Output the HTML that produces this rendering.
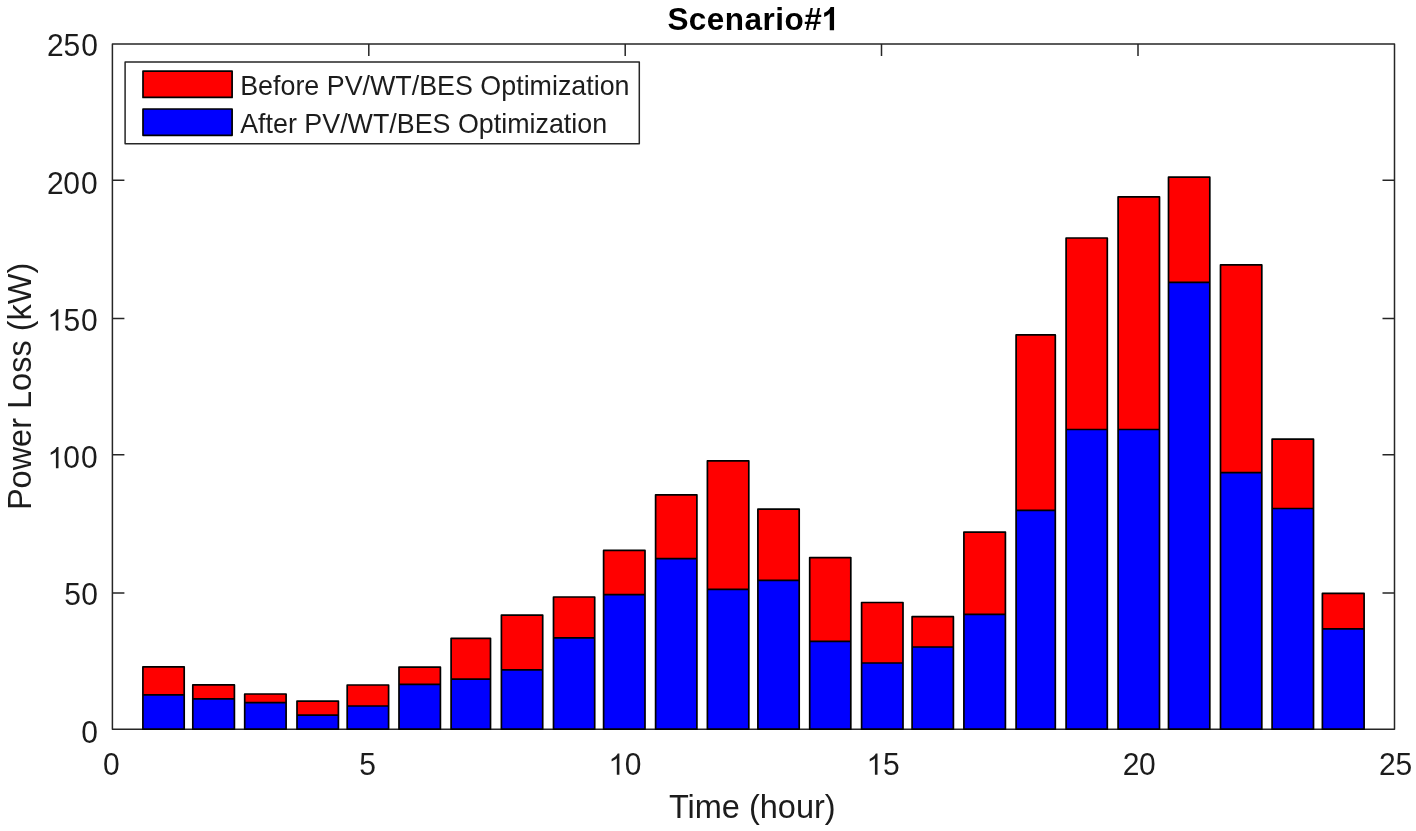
<!DOCTYPE html>
<html><head><meta charset="utf-8"><title>Scenario#1</title><style>
html,body{margin:0;padding:0;background:#fff;width:1416px;height:831px;overflow:hidden;}
svg{display:block;will-change:transform;}
text{font-family:"Liberation Sans",sans-serif;}
</style></head><body>
<svg width="1416" height="831" viewBox="0 0 1416 831">
<rect x="0" y="0" width="1416" height="831" fill="#fff"/>
<g stroke="#262626" stroke-width="1.5" fill="none" stroke-linejoin="round">
<rect x="112.4" y="43.95" width="1282.10" height="685.25"/>
<path d="M368.80 729.2V717.2M368.80 43.95V55.95M625.20 729.2V717.2M625.20 43.95V55.95M881.50 729.2V717.2M881.50 43.95V55.95M1138.00 729.2V717.2M1138.00 43.95V55.95M112.4 593.00H124.4M1394.5 593.00H1382.5M112.4 454.80H124.4M1394.5 454.80H1382.5M112.4 318.40H124.4M1394.5 318.40H1382.5M112.4 180.30H124.4M1394.5 180.30H1382.5"/>
</g>
<g stroke="#000" stroke-width="1.7" stroke-linejoin="round" fill="none">
<rect x="142.90" y="666.80" width="41.30" height="62.40" fill="#f00" stroke="none"/><rect x="142.90" y="694.90" width="41.30" height="34.30" fill="#00f" stroke="none"/><rect x="142.90" y="666.80" width="41.30" height="62.40"/><path d="M142.90 694.90H184.20"/><rect x="192.80" y="684.90" width="41.60" height="44.30" fill="#f00" stroke="none"/><rect x="192.80" y="698.90" width="41.60" height="30.30" fill="#00f" stroke="none"/><rect x="192.80" y="684.90" width="41.60" height="44.30"/><path d="M192.80 698.90H234.40"/><rect x="244.70" y="694.00" width="41.40" height="35.20" fill="#f00" stroke="none"/><rect x="244.70" y="702.70" width="41.40" height="26.50" fill="#00f" stroke="none"/><rect x="244.70" y="694.00" width="41.40" height="35.20"/><path d="M244.70 702.70H286.10"/><rect x="297.00" y="701.10" width="41.40" height="28.10" fill="#f00" stroke="none"/><rect x="297.00" y="715.10" width="41.40" height="14.10" fill="#00f" stroke="none"/><rect x="297.00" y="701.10" width="41.40" height="28.10"/><path d="M297.00 715.10H338.40"/><rect x="347.20" y="685.00" width="41.40" height="44.20" fill="#f00" stroke="none"/><rect x="347.20" y="706.00" width="41.40" height="23.20" fill="#00f" stroke="none"/><rect x="347.20" y="685.00" width="41.40" height="44.20"/><path d="M347.20 706.00H388.60"/><rect x="399.00" y="667.20" width="41.40" height="62.00" fill="#f00" stroke="none"/><rect x="399.00" y="684.40" width="41.40" height="44.80" fill="#00f" stroke="none"/><rect x="399.00" y="667.20" width="41.40" height="62.00"/><path d="M399.00 684.40H440.40"/><rect x="451.10" y="638.30" width="39.40" height="90.90" fill="#f00" stroke="none"/><rect x="451.10" y="679.10" width="39.40" height="50.10" fill="#00f" stroke="none"/><rect x="451.10" y="638.30" width="39.40" height="90.90"/><path d="M451.10 679.10H490.50"/><rect x="501.40" y="615.10" width="41.30" height="114.10" fill="#f00" stroke="none"/><rect x="501.40" y="669.80" width="41.30" height="59.40" fill="#00f" stroke="none"/><rect x="501.40" y="615.10" width="41.30" height="114.10"/><path d="M501.40 669.80H542.70"/><rect x="553.50" y="597.00" width="41.20" height="132.20" fill="#f00" stroke="none"/><rect x="553.50" y="637.90" width="41.20" height="91.30" fill="#00f" stroke="none"/><rect x="553.50" y="597.00" width="41.20" height="132.20"/><path d="M553.50 637.90H594.70"/><rect x="603.60" y="550.40" width="41.40" height="178.80" fill="#f00" stroke="none"/><rect x="603.60" y="594.70" width="41.40" height="134.50" fill="#00f" stroke="none"/><rect x="603.60" y="550.40" width="41.40" height="178.80"/><path d="M603.60 594.70H645.00"/><rect x="655.60" y="494.80" width="41.30" height="234.40" fill="#f00" stroke="none"/><rect x="655.60" y="558.60" width="41.30" height="170.60" fill="#00f" stroke="none"/><rect x="655.60" y="494.80" width="41.30" height="234.40"/><path d="M655.60 558.60H696.90"/><rect x="707.40" y="460.80" width="41.40" height="268.40" fill="#f00" stroke="none"/><rect x="707.40" y="589.40" width="41.40" height="139.80" fill="#00f" stroke="none"/><rect x="707.40" y="460.80" width="41.40" height="268.40"/><path d="M707.40 589.40H748.80"/><rect x="757.90" y="509.20" width="41.30" height="220.00" fill="#f00" stroke="none"/><rect x="757.90" y="580.40" width="41.30" height="148.80" fill="#00f" stroke="none"/><rect x="757.90" y="509.20" width="41.30" height="220.00"/><path d="M757.90 580.40H799.20"/><rect x="809.70" y="557.60" width="41.10" height="171.60" fill="#f00" stroke="none"/><rect x="809.70" y="641.30" width="41.10" height="87.90" fill="#00f" stroke="none"/><rect x="809.70" y="557.60" width="41.10" height="171.60"/><path d="M809.70 641.30H850.80"/><rect x="861.60" y="602.50" width="41.40" height="126.70" fill="#f00" stroke="none"/><rect x="861.60" y="663.00" width="41.40" height="66.20" fill="#00f" stroke="none"/><rect x="861.60" y="602.50" width="41.40" height="126.70"/><path d="M861.60 663.00H903.00"/><rect x="912.10" y="616.70" width="41.30" height="112.50" fill="#f00" stroke="none"/><rect x="912.10" y="647.00" width="41.30" height="82.20" fill="#00f" stroke="none"/><rect x="912.10" y="616.70" width="41.30" height="112.50"/><path d="M912.10 647.00H953.40"/><rect x="963.90" y="532.10" width="41.50" height="197.10" fill="#f00" stroke="none"/><rect x="963.90" y="614.40" width="41.50" height="114.80" fill="#00f" stroke="none"/><rect x="963.90" y="532.10" width="41.50" height="197.10"/><path d="M963.90 614.40H1005.40"/><rect x="1016.10" y="334.90" width="39.20" height="394.30" fill="#f00" stroke="none"/><rect x="1016.10" y="510.30" width="39.20" height="218.90" fill="#00f" stroke="none"/><rect x="1016.10" y="334.90" width="39.20" height="394.30"/><path d="M1016.10 510.30H1055.30"/><rect x="1066.10" y="238.00" width="41.20" height="491.20" fill="#f00" stroke="none"/><rect x="1066.10" y="429.50" width="41.20" height="299.70" fill="#00f" stroke="none"/><rect x="1066.10" y="238.00" width="41.20" height="491.20"/><path d="M1066.10 429.50H1107.30"/><rect x="1118.10" y="196.90" width="41.40" height="532.30" fill="#f00" stroke="none"/><rect x="1118.10" y="429.50" width="41.40" height="299.70" fill="#00f" stroke="none"/><rect x="1118.10" y="196.90" width="41.40" height="532.30"/><path d="M1118.10 429.50H1159.50"/><rect x="1168.50" y="177.20" width="41.30" height="552.00" fill="#f00" stroke="none"/><rect x="1168.50" y="282.40" width="41.30" height="446.80" fill="#00f" stroke="none"/><rect x="1168.50" y="177.20" width="41.30" height="552.00"/><path d="M1168.50 282.40H1209.80"/><rect x="1220.50" y="264.90" width="41.30" height="464.30" fill="#f00" stroke="none"/><rect x="1220.50" y="472.70" width="41.30" height="256.50" fill="#00f" stroke="none"/><rect x="1220.50" y="264.90" width="41.30" height="464.30"/><path d="M1220.50 472.70H1261.80"/><rect x="1272.10" y="439.20" width="41.40" height="290.00" fill="#f00" stroke="none"/><rect x="1272.10" y="508.50" width="41.40" height="220.70" fill="#00f" stroke="none"/><rect x="1272.10" y="439.20" width="41.40" height="290.00"/><path d="M1272.10 508.50H1313.50"/><rect x="1322.40" y="593.40" width="41.70" height="135.80" fill="#f00" stroke="none"/><rect x="1322.40" y="628.80" width="41.70" height="100.40" fill="#00f" stroke="none"/><rect x="1322.40" y="593.40" width="41.70" height="135.80"/><path d="M1322.40 628.80H1364.10"/>
</g>
<g fill="#1c1c1c" font-size="30">
<text x="89.50" y="743.50" text-anchor="middle" transform="matrix(1,0,0,1.05,0,-37.175)">0</text><text x="72.60" y="605.00" text-anchor="middle" transform="matrix(1,0,0,1.05,0,-30.250)">5</text><text x="89.60" y="605.00" text-anchor="middle" transform="matrix(1,0,0,1.05,0,-30.250)">0</text><text x="71.60" y="468.40" text-anchor="middle" transform="matrix(1,0,0,1.05,0,-23.420)">0</text><text x="89.40" y="468.40" text-anchor="middle" transform="matrix(1,0,0,1.05,0,-23.420)">0</text><text x="71.85" y="330.70" text-anchor="middle" transform="matrix(1,0,0,1.05,0,-16.535)">5</text><text x="89.40" y="330.70" text-anchor="middle" transform="matrix(1,0,0,1.05,0,-16.535)">0</text><text x="55.45" y="193.70" text-anchor="middle" transform="matrix(1,0,0,1.05,0,-9.685)">2</text><text x="71.60" y="193.70" text-anchor="middle" transform="matrix(1,0,0,1.05,0,-9.685)">0</text><text x="89.40" y="193.70" text-anchor="middle" transform="matrix(1,0,0,1.05,0,-9.685)">0</text><text x="55.45" y="55.95" text-anchor="middle" transform="matrix(1,0,0,1.05,0,-2.798)">2</text><text x="71.85" y="55.95" text-anchor="middle" transform="matrix(1,0,0,1.05,0,-2.798)">5</text><text x="89.50" y="55.95" text-anchor="middle" transform="matrix(1,0,0,1.05,0,-2.798)">0</text><text x="111.30" y="775.50" text-anchor="middle" transform="matrix(1,0,0,1.05,0,-38.775)">0</text><text x="367.70" y="775.50" text-anchor="middle" transform="matrix(1,0,0,1.05,0,-38.775)">5</text><text x="633.05" y="775.50" text-anchor="middle" transform="matrix(1,0,0,1.05,0,-38.775)">0</text><text x="891.30" y="775.50" text-anchor="middle" transform="matrix(1,0,0,1.05,0,-38.775)">5</text><text x="1131.15" y="775.50" text-anchor="middle" transform="matrix(1,0,0,1.05,0,-38.775)">2</text><text x="1147.45" y="775.50" text-anchor="middle" transform="matrix(1,0,0,1.05,0,-38.775)">0</text><text x="1387.45" y="775.50" text-anchor="middle" transform="matrix(1,0,0,1.05,0,-38.775)">2</text><text x="1403.90" y="775.50" text-anchor="middle" transform="matrix(1,0,0,1.05,0,-38.775)">5</text>
<path transform="matrix(0.01440,0,0,-0.01440,47.51,468.30)" d="M763 0H583V1147Q518 1085 412 1023Q307 961 223 930V1104Q374 1175 487 1276Q600 1377 647 1472H763Z"/><path transform="matrix(0.01440,0,0,-0.01440,47.36,330.50)" d="M763 0H583V1147Q518 1085 412 1023Q307 961 223 930V1104Q374 1175 487 1276Q600 1377 647 1472H763Z"/><path transform="matrix(0.01440,0,0,-0.01440,608.41,774.80)" d="M763 0H583V1147Q518 1085 412 1023Q307 961 223 930V1104Q374 1175 487 1276Q600 1377 647 1472H763Z"/><path transform="matrix(0.01440,0,0,-0.01440,866.51,774.80)" d="M763 0H583V1147Q518 1085 412 1023Q307 961 223 930V1104Q374 1175 487 1276Q600 1377 647 1472H763Z"/>
</g>
<text x="752.3" y="818" text-anchor="middle" font-size="32.5" fill="#1c1c1c">Time (hour)</text>
<text transform="translate(31,386.4) rotate(-90)" x="0" y="0" text-anchor="middle" font-size="32.5" fill="#1c1c1c">Power Loss (kW)</text>
<text x="667.4" y="30.3" font-size="31.5" font-weight="bold" letter-spacing="0.47" fill="#000">Scenario#</text>
<g fill="#000"><path transform="matrix(0.01538,0,0,-0.01584,818.39,30.30)" d="M1019 0H738V1059Q584 915 375 846V1101Q485 1137 614 1237Q743 1338 791 1472H1019Z"/></g>
<g stroke-linejoin="round">
<rect x="125.1" y="61.9" width="514.2" height="81.9" fill="#fff" stroke="#262626" stroke-width="1.5"/>
<rect x="143" y="71.1" width="89.1" height="26.3" fill="#f00" stroke="#000" stroke-width="1.7"/>
<rect x="143" y="109" width="89.1" height="26.3" fill="#00f" stroke="#000" stroke-width="1.7"/>
<g font-size="26.85" fill="#1c1c1c">
<text x="240.2" y="94.8">Before PV/WT/BES Optimization</text>
<text x="240.2" y="132.5">After PV/WT/BES Optimization</text>
</g>
</g>
</svg>
</body></html>
